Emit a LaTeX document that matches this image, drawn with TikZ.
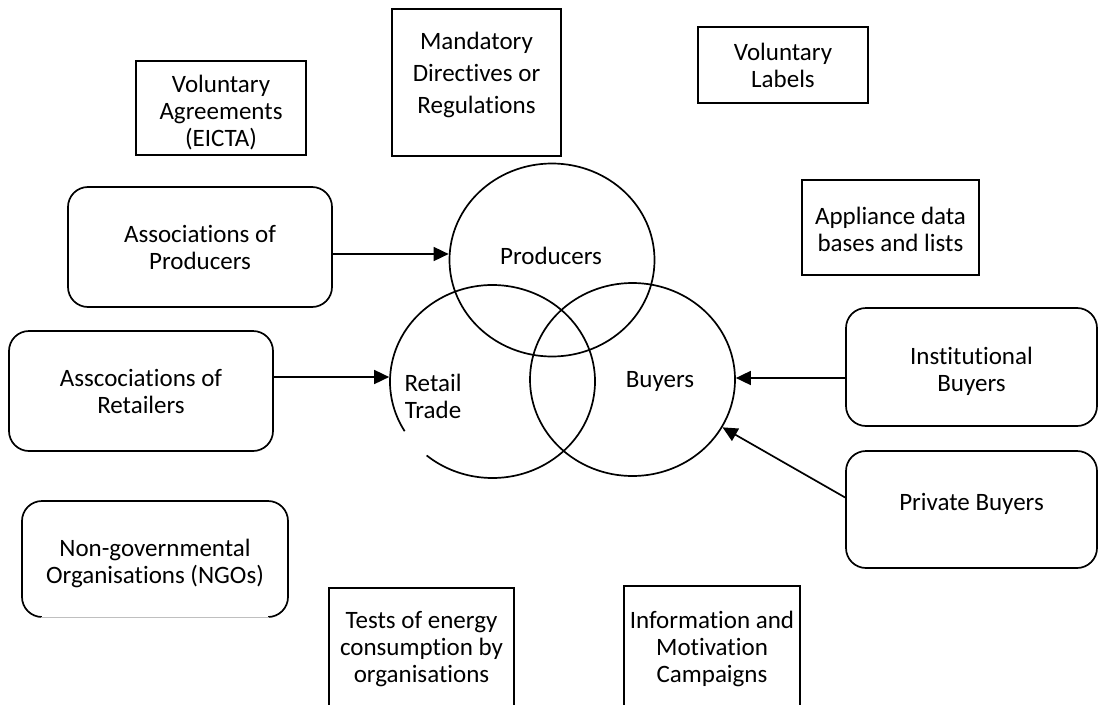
\documentclass[tikz,border=0pt]{standalone}
\usepackage{fontspec}
\setmainfont{Carlito}[Ligatures={NoCommon,NoRequired,NoContextual}]
\usetikzlibrary{arrows.meta,positioning,shapes.geometric,calc}

\begin{document}
\begin{tikzpicture}[x=1pt,y=-1pt,
  sqbox/.style={draw,line width=1.7pt,inner sep=0pt},
  rndbox/.style={draw,line width=1.7pt,rounded corners=20pt,inner sep=0pt},
  ring/.style={ellipse,draw,line width=1.7pt,minimum width=205pt,minimum height=193pt,inner sep=0pt},
  txt/.style={align=center,font=\fontsize{25}{27}\selectfont,inner sep=0pt},
  arr/.style={-{Triangle[length=15pt,width=14pt]},line width=1.7pt}]
\useasboundingbox (0,0) rectangle (1100,704);

% square boxes
\node[sqbox,minimum width=170pt,minimum height=94pt] (va) at (221,108) {};
\node[sqbox,minimum width=169pt,minimum height=147pt] (mand) at (476.5,82.5) {};
\node[sqbox,minimum width=170pt,minimum height=76pt] (vlab) at (783,65) {};
\node[sqbox,minimum width=177pt,minimum height=95pt] (appl) at (890.5,227.5) {};
\node[sqbox,minimum width=185pt,minimum height=126pt] (test) at (421.5,651) {};
\node[sqbox,minimum width=176pt,minimum height=128pt] (info) at (712,650) {};

% rounded boxes
\node[rndbox,minimum width=264pt,minimum height=120pt] (apro) at (200,247) {};
\node[rndbox,minimum width=264pt,minimum height=120pt] (aret) at (141,391) {};
\node[rndbox,minimum width=251pt,minimum height=118pt] (inst) at (971.5,367) {};
\node[rndbox,minimum width=251pt,minimum height=117pt] (priv) at (971.5,509.5) {};
\node[rndbox,minimum width=266pt,minimum height=116pt] (ngo) at (155,559) {};
\draw[white,line width=2.8pt] ([xshift=21pt]ngo.south west) -- ([xshift=-21pt]ngo.south east);
\draw[black!25,line width=0.8pt] ([xshift=20pt]ngo.south west) -- ([xshift=-20pt]ngo.south east);

% the three actors
\node[ring] (prod) at (552,260) {};
\node[ring,draw=none] (retail) at (492.5,381.5) {};
\node[ring] (buyers) at (632.5,379.5) {};
\draw[line width=1.7pt] (retail.center) ++(149:102.5 and 96.5)
  arc[start angle=149,end angle=490,x radius=102.5,y radius=96.5];

% texts
\node[txt] (va-t) at (221,113) {Voluntary\\Agreements\\(EICTA)};
\node[txt,font=\fontsize{25}{32}\selectfont] (mand-t) at (476.5,75) {Mandatory\\Directives or\\Regulations};
\node[txt] (vlab-t) at (783,65) {Voluntary\\Labels};
\node[txt] (appl-t) at (890.5,229) {Appliance data\\bases and lists};
\node[txt] (apro-t) at (200,247) {Associations of\\Producers};
\node[txt] (aret-t) at (141,391) {Asscociations of\\Retailers};
\node[txt] (inst-t) at (971.5,371) {Institutional\\Buyers};
\node[txt] (priv-t) at (971.5,504) {Private Buyers};
\node[txt] (ngo-t) at (155,563) {Non-governmental\\Organisations (NGOs)};
\node[txt] (test-t) at (421.5,649) {Tests of energy\\consumption by\\organisations};
\node[txt] (info-t) at (712,649) {Information and\\Motivation\\Campaigns};
\node[txt] (prod-t) at (551,256) {Producers};
\node[txt] (retail-t) at (433,396) {Retail\\Trade};
\node[txt] (buy-t) at (660,381) {Buyers};

% arrows
\draw[arr] ([yshift=-7pt]apro.east) -- ([yshift=-7pt]apro.east -| prod.west);
\draw[arr] ([yshift=14pt]aret.east) -- ([yshift=14pt]aret.east -| retail.west);
\draw[arr] ([yshift=-11pt]inst.west) -- ([yshift=-11pt]inst.west -| buyers.east);
\draw[arr] ([yshift=12pt]priv.west) -- (buyers.-28);
\end{tikzpicture}
\end{document}
